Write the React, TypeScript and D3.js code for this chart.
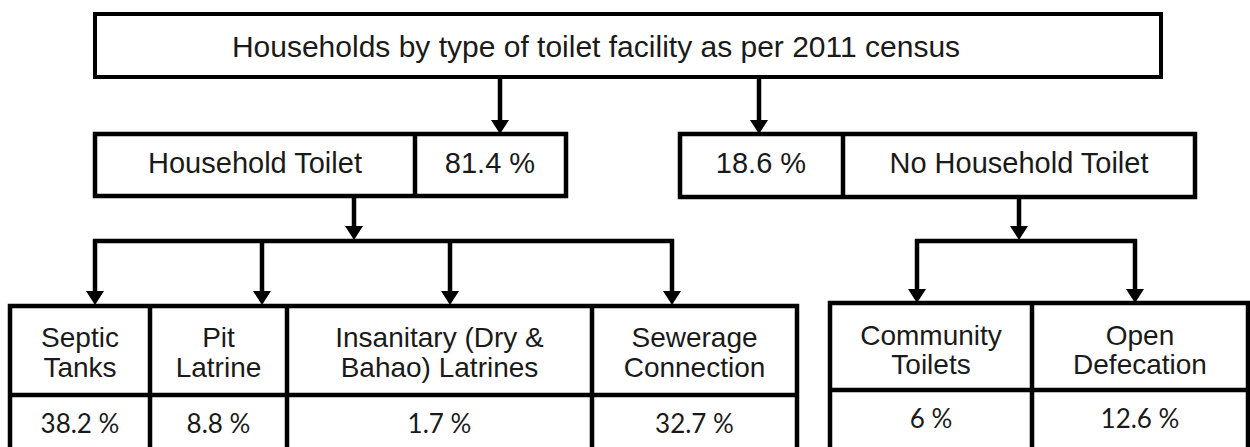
import React from "react";
import * as d3 from "d3";

// ---- data ----
const title = "Households by type of toilet facility as per 2011 census";
const level1Labels = ["Household Toilet", "No Household Toilet"];
const level1Values = [81.4, 18.6];
const leftCategories = [["Septic", "Tanks"], ["Pit", "Latrine"], ["Insanitary (Dry &", "Bahao) Latrines"], ["Sewerage", "Connection"]];
const leftValues = [38.2, 8.8, 1.7, 32.7];
const rightCategories = [["Community", "Toilets"], ["Open", "Defecation"]];
const rightValues = [6, 12.6];

// ---- layout ----
const W = 1250, H = 447;
const SW = 4.5;
const leftCols = [10, 150, 287, 592, 797];
const rightCols = [830, 1032, 1248];
const leftArrowX = [95, 262, 450, 672];
const rightArrowX = [917, 1135];

const fmt = (v: number) => `${d3.format("")(v)} %`;
const headFont = "'Liberation Sans', Arial, sans-serif";
const valFont = "Lato, 'Open Sans', sans-serif";

function Arrow({ x, y1, y2 }: { x: number; y1: number; y2: number }) {
  const line = d3.line();
  const ah = 14, aw = 9;
  return (
    <g>
      <path d={line([[x, y1], [x, y2 - ah + 1]]) as string} stroke="#000" strokeWidth={SW} fill="none" />
      <path d={(line([[x - aw, y2 - ah], [x + aw, y2 - ah], [x, y2]]) as string) + "Z"} fill="#000" />
    </g>
  );
}

export default function App() {
  const line = d3.line();
  return (
    <svg width={W} height={H} style={{ position: "absolute", left: 0, top: 0, background: "#fff" }}>
      <rect x={0} y={0} width={W} height={H} fill="#fff" />
      {/* title box */}
      <rect x={95} y={14} width={1066} height={63} fill="#fff" stroke="#000" strokeWidth={4} />
      <text x={596} y={57} textAnchor="middle" fontFamily={headFont} fontSize={30} fill="#1a1a1a">{title}</text>

      <Arrow x={500} y1={77} y2={134} />
      <Arrow x={759} y1={77} y2={134} />

      {/* level 1 left */}
      <rect x={95} y={134} width={471} height={62} fill="#fff" stroke="#000" strokeWidth={SW} />
      <path d={line([[415, 134], [415, 196]]) as string} stroke="#000" strokeWidth={SW} />
      <text x={255} y={173} textAnchor="middle" fontFamily={headFont} fontSize={29} fill="#1a1a1a">{level1Labels[0]}</text>
      <text x={490} y={173} textAnchor="middle" fontFamily={headFont} fontSize={29} fill="#1a1a1a">{fmt(level1Values[0])}</text>

      {/* level 1 right */}
      <rect x={680} y={134} width={515} height={63} fill="#fff" stroke="#000" strokeWidth={SW} />
      <path d={line([[843, 134], [843, 197]]) as string} stroke="#000" strokeWidth={SW} />
      <text x={761} y={173} textAnchor="middle" fontFamily={headFont} fontSize={29} fill="#1a1a1a">{fmt(level1Values[1])}</text>
      <text x={1019} y={173} textAnchor="middle" fontFamily={headFont} fontSize={29} fill="#1a1a1a">{level1Labels[1]}</text>

      {/* left connectors */}
      <Arrow x={354} y1={196} y2={240} />
      <path d={line([[leftArrowX[0] - 2, 241], [leftArrowX[3] + 2, 241]]) as string} stroke="#000" strokeWidth={SW} />
      {leftArrowX.map((x, i) => <Arrow key={i} x={x} y1={239} y2={305} />)}

      {/* right connectors */}
      <Arrow x={1019} y1={197} y2={240} />
      <path d={line([[rightArrowX[0] - 2, 241], [rightArrowX[1] + 2, 241]]) as string} stroke="#000" strokeWidth={SW} />
      {rightArrowX.map((x, i) => <Arrow key={i} x={x} y1={239} y2={303} />)}

      {/* left table */}
      <rect x={leftCols[0]} y={306} width={leftCols[4] - leftCols[0]} height={170} fill="#fff" stroke="#000" strokeWidth={SW} />
      <path d={line([[leftCols[0], 395], [leftCols[4], 395]]) as string} stroke="#000" strokeWidth={SW} />
      {leftCols.slice(1, 4).map((x, i) => (
        <path key={i} d={line([[x, 306], [x, 470]]) as string} stroke="#000" strokeWidth={SW} />
      ))}
      {leftCategories.map((lines, i) => {
        const cx = (leftCols[i] + leftCols[i + 1]) / 2;
        return (
          <g key={i}>
            {lines.map((t, j) => (
              <text key={j} x={cx} y={347 + j * 30} textAnchor="middle" fontFamily={headFont} fontSize={28} fill="#1a1a1a">{t}</text>
            ))}
            <text x={cx} y={433} textAnchor="middle" fontFamily={valFont} fontSize={26} fill="#1a1a1a">{fmt(leftValues[i])}</text>
          </g>
        );
      })}

      {/* right table */}
      <rect x={rightCols[0]} y={303} width={rightCols[2] - rightCols[0]} height={170} fill="#fff" stroke="#000" strokeWidth={SW} />
      <path d={line([[rightCols[0], 390], [rightCols[2], 390]]) as string} stroke="#000" strokeWidth={SW} />
      <path d={line([[rightCols[1], 303], [rightCols[1], 470]]) as string} stroke="#000" strokeWidth={SW} />
      {rightCategories.map((lines, i) => {
        const cx = (rightCols[i] + rightCols[i + 1]) / 2;
        return (
          <g key={i}>
            {lines.map((t, j) => (
              <text key={j} x={cx} y={345 + j * 29} textAnchor="middle" fontFamily={headFont} fontSize={28} fill="#1a1a1a">{t}</text>
            ))}
            <text x={cx} y={428} textAnchor="middle" fontFamily={valFont} fontSize={26} fill="#1a1a1a">{fmt(rightValues[i])}</text>
          </g>
        );
      })}
    </svg>
  );
}
